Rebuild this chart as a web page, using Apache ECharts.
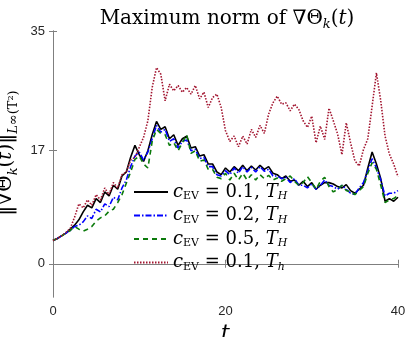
<!DOCTYPE html>
<html>
<head>
<meta charset="utf-8">
<script src="https://cdn.jsdelivr.net/npm/echarts@6/dist/echarts.min.js"></script>
<style>
html, body { margin: 0; padding: 0; background: #fff; }
#chart { width: 407px; height: 337px; }
</style>
</head>
<body>
<div id="chart"></div>
<script>
// samples every 0.5 time units, t = 0 .. 40
const tStep = 0.5;
const xTicks = [0, 20, 40];
const yTicks = [0, 17, 35];

const cev01H = [3.5, 3.8, 4.2, 4.6, 5.2, 5.8, 6.6, 7.8, 8.8, 8.4,
    9.8, 9.2, 10.8, 10.2, 11.8, 11.2, 13.2, 13.8, 16.0, 17.8,
    16.4, 15.4, 17.0, 19.4, 21.4, 20.2, 20.6, 18.8, 19.4, 17.8,
    18.8, 19.2, 17.4, 17.6, 16.2, 16.4, 15.0, 15.0, 13.8, 13.4,
    14.4, 13.8, 14.6, 14.0, 14.8, 14.0, 14.7, 14.1, 14.8, 14.2,
    14.6, 13.6, 13.4, 12.8, 13.2, 12.4, 12.6, 11.8, 12.4, 11.6,
    12.2, 11.2, 11.8, 12.2, 12.2, 12.0, 11.6, 11.4, 11.9, 11.0,
    10.6, 11.2, 11.8, 14.4, 16.8, 15.0, 12.8, 9.4, 9.8, 9.4, 10.0];
const cev02H = [3.5, 3.8, 4.2, 4.6, 5.0, 5.6, 5.8, 6.3, 7.2, 6.8,
    8.2, 7.8, 9.0, 8.6, 10.0, 9.6, 11.4, 12.6, 14.6, 16.2,
    16.8, 15.6, 16.8, 18.8, 20.8, 19.8, 20.2, 18.4, 18.8, 17.4,
    18.4, 18.6, 17.0, 17.2, 15.8, 16.0, 14.6, 14.6, 13.4, 13.2,
    14.0, 13.4, 14.4, 13.6, 14.6, 13.8, 14.5, 13.8, 14.6, 13.9,
    14.2, 13.2, 13.2, 12.8, 13.0, 12.2, 12.8, 11.8, 11.8, 11.4,
    12.0, 11.2, 11.8, 12.6, 11.8, 11.6, 11.2, 11.8, 11.2, 10.6,
    10.4, 11.4, 12.2, 14.0, 15.8, 14.4, 12.6, 10.2, 10.6, 10.6, 11.0];
const cev05H = [3.5, 3.8, 4.2, 4.6, 5.0, 5.6, 5.2, 4.9, 5.2, 5.6,
    6.4, 6.9, 7.2, 7.9, 8.2, 9.2, 10.4, 12.1, 13.8, 15.7,
    16.2, 15.0, 14.4, 18.4, 20.2, 19.6, 19.4, 17.8, 18.2, 17.0,
    18.2, 19.4, 16.6, 17.0, 15.4, 15.6, 14.2, 14.2, 13.0, 12.8,
    13.6, 12.6, 13.6, 12.6, 13.6, 12.6, 13.4, 12.6, 13.4, 12.8,
    13.3, 12.6, 12.9, 12.4, 12.8, 13.2, 12.4, 11.8, 12.2, 13.1,
    12.2, 11.2, 12.4, 13.0, 11.6, 10.8, 11.2, 11.8, 11.0, 10.8,
    10.4, 11.0, 11.6, 13.6, 15.2, 14.2, 11.8, 9.2, 9.6, 9.8, 10.3];
const cev01h = [3.5, 3.8, 4.2, 4.7, 5.3, 7.0, 9.0, 8.4, 9.6, 8.8,
    10.4, 9.6, 11.4, 10.4, 12.2, 11.4, 13.4, 13.8, 15.6, 16.0,
    17.5, 19.0, 21.5, 26.5, 29.5, 28.5, 24.5, 27.0, 26.0, 26.8,
    25.8, 26.5, 25.5, 26.8, 24.8, 25.8, 23.5, 25.0, 25.5, 23.5,
    20.0, 18.4, 19.2, 17.6, 19.2, 18.0, 20.2, 19.0, 20.8, 19.6,
    22.5, 24.2, 25.2, 24.0, 24.2, 23.0, 24.0, 23.2, 21.5, 20.5,
    22.2, 18.2, 20.7, 18.7, 23.4, 21.5, 19.5, 16.4, 21.2, 18.2,
    15.5, 14.7, 17.2, 18.8, 23.7, 28.7, 24.5, 19.2, 16.5, 15.0, 13.1];

const serif = "'DejaVu Serif', 'Liberation Serif', serif";
const sans = "'Liberation Sans', Arial, sans-serif";

const legendRich = {
    i: { fontFamily: serif, fontStyle: 'italic', fontSize: 18, lineHeight: 20, color: '#000' },
    a: { fontFamily: serif, fontSize: 18, lineHeight: 20, color: '#000' },
    s: { fontFamily: serif, fontSize: 11, color: '#000', verticalAlign: 'bottom' },
    si: { fontFamily: serif, fontStyle: 'italic', fontSize: 11, color: '#000', verticalAlign: 'bottom' }
};
const legendLabels = {
    'c01H': '{i|c}{s|EV}{a| = 0.1, }{i|T}{si|H}',
    'c02H': '{i|c}{s|EV}{a| = 0.2, }{i|T}{si|H}',
    'c05H': '{i|c}{s|EV}{a| = 0.5, }{i|T}{si|H}',
    'c01h': '{i|c}{s|EV}{a| = 0.1, }{i|T}{si|h}'
};

function pairs(vals) {
    return vals.map((v, i) => [i * tStep, v]);
}

const chart = echarts.init(document.getElementById('chart'));

const axisLine = { show: true, lineStyle: { color: '#7f7f7f', width: 1 } };

const option = {
    animation: false,
    title: {
        text: '{a|Maximum norm of ∇Θ}{s|k}{a|(}{i|t}{a|)}',
        left: 222,
        top: 2,
        textAlign: 'center',
        textStyle: {
            fontWeight: 'normal',
            rich: {
                a: { fontFamily: serif, fontWeight: 'normal', fontSize: 20, lineHeight: 24, color: '#000' },
                i: { fontFamily: serif, fontWeight: 'normal', fontStyle: 'italic', fontSize: 20, lineHeight: 24, color: '#000' },
                s: { fontFamily: serif, fontWeight: 'normal', fontStyle: 'italic', fontSize: 13, color: '#000', verticalAlign: 'bottom' }
            }
        }
    },
    legend: {
        orient: 'vertical',
        left: 128,
        top: 178,
        itemWidth: 34,
        itemHeight: 10,
        itemGap: 4.5,
        itemStyle: { opacity: 0 },
        backgroundColor: 'rgba(255,255,255,0)',
        formatter: name => legendLabels[name],
        textStyle: { rich: legendRich },
        data: ['c01H', 'c02H', 'c05H', 'c01h']
    },
    grid: {
        left: 53,
        right: 9,
        top: 31,
        bottom: 40,
        outerBoundsMode: 'none'
    },
    xAxis: [{
        type: 'value',
        min: 0,
        max: 40,
        interval: 20,
        name: 't',
        nameLocation: 'middle',
        nameGap: 14,
        nameTextStyle: { fontFamily: serif, fontStyle: 'italic', fontWeight: 'normal', fontSize: 22, color: '#000' },
        axisLine: axisLine,
        axisTick: { inside: true, length: 4, lineStyle: { color: '#7f7f7f' } },
        axisLabel: { fontFamily: sans, fontSize: 13, color: '#262626', margin: 8 },
        splitLine: { show: false }
    }, {
        type: 'value',
        position: 'top',
        min: 0,
        max: 40,
        interval: 20,
        axisLine: axisLine,
        axisTick: { inside: true, length: 4, lineStyle: { color: '#7f7f7f' } },
        axisLabel: { show: false },
        splitLine: { show: false }
    }],
    yAxis: [{
        type: 'value',
        min: -5,
        max: 35,
        name: '{a|‖∇Θ}{si|k}{a|(}{i|t}{a|)‖}{si|L}{s|∞(T²)}',
        nameLocation: 'middle',
        nameGap: 11,
        nameTextStyle: {
            padding: [0, 0, 0, 22],
            rich: {
                a: { fontFamily: serif, fontSize: 20, lineHeight: 28, color: '#000' },
                i: { fontFamily: serif, fontStyle: 'italic', fontSize: 20, lineHeight: 28, color: '#000' },
                s: { fontFamily: serif, fontSize: 13, color: '#000', verticalAlign: 'bottom' },
                si: { fontFamily: serif, fontStyle: 'italic', fontSize: 13, color: '#000', verticalAlign: 'bottom' }
            }
        },
        axisLine: axisLine,
        axisTick: { inside: true, length: 4, customValues: yTicks, lineStyle: { color: '#7f7f7f' } },
        axisLabel: { fontFamily: sans, fontSize: 13, color: '#262626', margin: 8, customValues: yTicks },
        splitLine: { show: false }
    }, {
        type: 'value',
        position: 'right',
        min: -5,
        max: 35,
        axisLine: axisLine,
        axisTick: { inside: true, length: 4, customValues: yTicks, lineStyle: { color: '#7f7f7f' } },
        axisLabel: { show: false },
        splitLine: { show: false }
    }],
    series: [{
        name: 'c01H',
        type: 'line',
        symbol: 'none',
        color: '#000000',
        lineStyle: { width: 1.6, type: 'solid' },
        data: pairs(cev01H)
    }, {
        name: 'c02H',
        type: 'line',
        symbol: 'none',
        color: '#0000ff',
        lineStyle: { width: 1.6, type: [6, 2, 1.5, 2] },
        data: pairs(cev02H)
    }, {
        name: 'c05H',
        type: 'line',
        symbol: 'none',
        color: '#0b7a0b',
        lineStyle: { width: 1.6, type: [5, 4] },
        data: pairs(cev05H)
    }, {
        name: 'c01h',
        type: 'line',
        symbol: 'none',
        color: '#a2142f',
        lineStyle: { width: 1.6, type: [1.5, 1.5] },
        data: pairs(cev01h)
    }]
};

chart.setOption(option);

window.addEventListener('resize', function () {
    chart.resize();
});
</script>
</body>
</html>
